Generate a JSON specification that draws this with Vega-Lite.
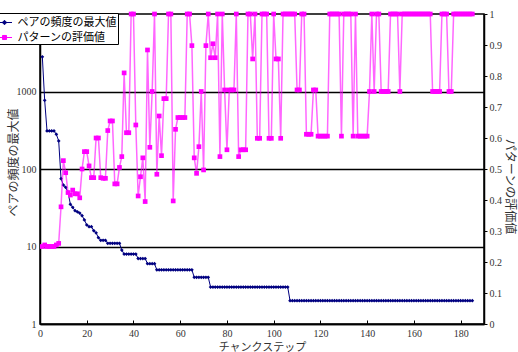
{
"$schema": "https://vega.github.io/schema/vega-lite/v6.json",
"width": 444, "height": 310,
"autosize": {"type": "none"},
"padding": {"left": 40, "top": 14, "right": 34, "bottom": 28},
"background": "white",
"config": {
  "view": {"stroke": "black", "strokeWidth": 1.5},
  "font": "Liberation Serif",
  "axis": {"labelFont": "Liberation Serif", "labelFontSize": 10, "labelColor": "#333", "domainColor": "black", "domainWidth": 1.5, "tickColor": "black", "titleFont": "Noto Sans CJK JP", "titleFontWeight": "normal", "titleColor": "#333"}
},
"datasets": {
"freq": [{"x":1,"v":2800},{"x":2,"v":770},{"x":3,"v":310},{"x":4,"v":310},{"x":5,"v":310},{"x":6,"v":310},{"x":7,"v":280},{"x":8,"v":230},{"x":9,"v":75},{"x":10,"v":62},{"x":11,"v":58},{"x":12,"v":50},{"x":13,"v":35},{"x":14,"v":32},{"x":15,"v":29},{"x":16,"v":28},{"x":17,"v":27},{"x":18,"v":25},{"x":19,"v":22},{"x":20,"v":19},{"x":21,"v":18},{"x":22,"v":18},{"x":23,"v":16},{"x":24,"v":15},{"x":25,"v":13},{"x":26,"v":12},{"x":27,"v":12},{"x":28,"v":12},{"x":29,"v":11},{"x":30,"v":11},{"x":31,"v":11},{"x":32,"v":11},{"x":33,"v":11},{"x":34,"v":11},{"x":35,"v":9},{"x":36,"v":8},{"x":37,"v":8},{"x":38,"v":8},{"x":39,"v":8},{"x":40,"v":8},{"x":41,"v":8},{"x":42,"v":7},{"x":43,"v":7},{"x":44,"v":7},{"x":45,"v":7},{"x":46,"v":6},{"x":47,"v":6},{"x":48,"v":6},{"x":49,"v":6},
{"x":50,"v":5},{"x":51,"v":5},{"x":52,"v":5},{"x":53,"v":5},{"x":54,"v":5},{"x":55,"v":5},{"x":56,"v":5},{"x":57,"v":5},{"x":58,"v":5},{"x":59,"v":5},{"x":60,"v":5},{"x":61,"v":5},{"x":62,"v":5},{"x":63,"v":5},{"x":64,"v":5},{"x":65,"v":5},
{"x":66,"v":4},{"x":67,"v":4},{"x":68,"v":4},{"x":69,"v":4},{"x":70,"v":4},{"x":71,"v":4},{"x":72,"v":4},
{"x":73,"v":3},{"x":74,"v":3},{"x":75,"v":3},{"x":76,"v":3},{"x":77,"v":3},{"x":78,"v":3},{"x":79,"v":3},{"x":80,"v":3},{"x":81,"v":3},{"x":82,"v":3},{"x":83,"v":3},{"x":84,"v":3},{"x":85,"v":3},{"x":86,"v":3},{"x":87,"v":3},{"x":88,"v":3},{"x":89,"v":3},{"x":90,"v":3},{"x":91,"v":3},{"x":92,"v":3},{"x":93,"v":3},{"x":94,"v":3},{"x":95,"v":3},{"x":96,"v":3},{"x":97,"v":3},{"x":98,"v":3},{"x":99,"v":3},{"x":100,"v":3},{"x":101,"v":3},{"x":102,"v":3},{"x":103,"v":3},{"x":104,"v":3},{"x":105,"v":3},{"x":106,"v":3},
{"x":107,"v":2},{"x":108,"v":2},{"x":109,"v":2},{"x":110,"v":2},{"x":111,"v":2},{"x":112,"v":2},{"x":113,"v":2},{"x":114,"v":2},{"x":115,"v":2},{"x":116,"v":2},{"x":117,"v":2},{"x":118,"v":2},{"x":119,"v":2},{"x":120,"v":2},{"x":121,"v":2},{"x":122,"v":2},{"x":123,"v":2},{"x":124,"v":2},{"x":125,"v":2},{"x":126,"v":2},{"x":127,"v":2},{"x":128,"v":2},{"x":129,"v":2},{"x":130,"v":2},{"x":131,"v":2},{"x":132,"v":2},{"x":133,"v":2},{"x":134,"v":2},{"x":135,"v":2},{"x":136,"v":2},{"x":137,"v":2},{"x":138,"v":2},{"x":139,"v":2},{"x":140,"v":2},{"x":141,"v":2},{"x":142,"v":2},{"x":143,"v":2},{"x":144,"v":2},{"x":145,"v":2},{"x":146,"v":2},{"x":147,"v":2},{"x":148,"v":2},{"x":149,"v":2},{"x":150,"v":2},{"x":151,"v":2},{"x":152,"v":2},{"x":153,"v":2},{"x":154,"v":2},{"x":155,"v":2},{"x":156,"v":2},{"x":157,"v":2},{"x":158,"v":2},{"x":159,"v":2},{"x":160,"v":2},{"x":161,"v":2},{"x":162,"v":2},{"x":163,"v":2},{"x":164,"v":2},{"x":165,"v":2},{"x":166,"v":2},{"x":167,"v":2},{"x":168,"v":2},{"x":169,"v":2},{"x":170,"v":2},{"x":171,"v":2},{"x":172,"v":2},{"x":173,"v":2},{"x":174,"v":2},{"x":175,"v":2},{"x":176,"v":2},{"x":177,"v":2},{"x":178,"v":2},{"x":179,"v":2},{"x":180,"v":2},{"x":181,"v":2},{"x":182,"v":2},{"x":183,"v":2},{"x":184,"v":2},{"x":185,"v":2}],
"score": [{"x":1,"v":0.25},{"x":2,"v":0.255},{"x":3,"v":0.25},{"x":4,"v":0.25},{"x":5,"v":0.25},{"x":6,"v":0.25},{"x":7,"v":0.255},{"x":8,"v":0.26},{"x":9,"v":0.378},{"x":10,"v":0.527},{"x":11,"v":0.488},{"x":12,"v":0.424},{"x":13,"v":0.416},{"x":14,"v":0.432},{"x":15,"v":0.42},{"x":16,"v":0.42},{"x":17,"v":0.407},{"x":18,"v":0.5},{"x":19,"v":0.556},{"x":20,"v":0.556},{"x":21,"v":0.51},{"x":22,"v":0.472},{"x":23,"v":0.472},{"x":24,"v":0.6},{"x":25,"v":0.6},{"x":26,"v":0.472},{"x":27,"v":0.47},{"x":28,"v":0.47},{"x":29,"v":0.624},{"x":30,"v":0.655},{"x":31,"v":0.655},{"x":32,"v":0.452},{"x":33,"v":0.452},{"x":34,"v":0.505},{"x":35,"v":0.54},{"x":36,"v":0.81},{"x":37,"v":0.617},{"x":38,"v":0.617},{"x":39,"v":1},{"x":40,"v":1},{"x":41,"v":0.642},{"x":42,"v":0.413},{"x":43,"v":0.475},{"x":44,"v":0.536},{"x":45,"v":0.395},{"x":46,"v":0.884},{"x":47,"v":0.57},{"x":48,"v":0.75},{"x":49,"v":1},{"x":50,"v":0.483},{"x":51,"v":0.671},{"x":52,"v":0.543},{"x":53,"v":0.727},{"x":54,"v":0.727},{"x":55,"v":1},{"x":56,"v":1},{"x":57,"v":0.397},{"x":58,"v":0.628},{"x":59,"v":0.666},{"x":60,"v":0.666},{"x":61,"v":0.666},{"x":62,"v":0.666},{"x":63,"v":1},{"x":64,"v":1},{"x":65,"v":0.898},{"x":66,"v":0.536},{"x":67,"v":0.486},{"x":68,"v":0.572},{"x":69,"v":0.75},{"x":70,"v":0.497},{"x":71,"v":0.898},{"x":72,"v":1},{"x":73,"v":0.859},{"x":74,"v":0.904},{"x":75,"v":0.859},{"x":76,"v":1},{"x":77,"v":0.54},{"x":78,"v":1},{"x":79,"v":0.755},{"x":80,"v":0.562},{"x":81,"v":0.755},{"x":82,"v":0.755},{"x":83,"v":0.755},{"x":84,"v":1},{"x":85,"v":0.54},{"x":86,"v":0.562},{"x":87,"v":0.562},{"x":88,"v":0.562},{"x":89,"v":1},{"x":90,"v":1},{"x":91,"v":0.855},{"x":92,"v":1},{"x":93,"v":0.599},{"x":94,"v":0.599},{"x":95,"v":1},{"x":96,"v":1},{"x":97,"v":1},{"x":98,"v":0.599},{"x":99,"v":0.599},{"x":100,"v":1},{"x":101,"v":0.855},{"x":102,"v":0.855},{"x":103,"v":0.599},{"x":104,"v":1},{"x":105,"v":1},{"x":106,"v":1},{"x":107,"v":1},{"x":108,"v":1},{"x":109,"v":1},{"x":110,"v":0.755},{"x":111,"v":0.755},{"x":112,"v":1},{"x":113,"v":1},{"x":114,"v":0.612},{"x":115,"v":0.612},{"x":116,"v":0.612},{"x":117,"v":0.755},{"x":118,"v":0.755},{"x":119,"v":0.606},{"x":120,"v":0.606},{"x":121,"v":0.606},{"x":122,"v":0.606},{"x":123,"v":0.606},{"x":124,"v":1},{"x":125,"v":1},{"x":126,"v":1},{"x":127,"v":1},{"x":128,"v":1},{"x":129,"v":0.606},{"x":130,"v":1},{"x":131,"v":1},{"x":132,"v":1},{"x":133,"v":1},{"x":134,"v":0.606},{"x":135,"v":1},{"x":136,"v":0.606},{"x":137,"v":0.606},{"x":138,"v":0.606},{"x":139,"v":0.606},{"x":140,"v":0.606},{"x":141,"v":0.75},{"x":142,"v":1},{"x":143,"v":0.75},{"x":144,"v":1},{"x":145,"v":1},{"x":146,"v":0.75},{"x":147,"v":0.75},{"x":148,"v":0.75},{"x":149,"v":0.75},{"x":150,"v":1},{"x":151,"v":1},{"x":152,"v":1},{"x":153,"v":1},{"x":154,"v":0.75},{"x":155,"v":1},{"x":156,"v":1},{"x":157,"v":1},{"x":158,"v":1},{"x":159,"v":1},{"x":160,"v":1},{"x":161,"v":1},{"x":162,"v":1},{"x":163,"v":1},{"x":164,"v":1},{"x":165,"v":1},{"x":166,"v":1},{"x":167,"v":1},{"x":168,"v":0.75},{"x":169,"v":0.75},{"x":170,"v":0.75},{"x":171,"v":0.75},{"x":172,"v":1},{"x":173,"v":1},{"x":174,"v":1},{"x":175,"v":0.75},{"x":176,"v":0.75},{"x":177,"v":1},{"x":178,"v":1},{"x":179,"v":1},{"x":180,"v":1},{"x":181,"v":1},{"x":182,"v":1},{"x":183,"v":1},{"x":184,"v":1},{"x":185,"v":1}]
},
"layer": [
  {
    "data": {"name": "freq"},
    "mark": {"type": "line", "strokeWidth": 1, "point": {"shape": "diamond", "filled": true, "size": 14, "opacity": 1}},
    "encoding": {
      "x": {"field": "x", "type": "quantitative", "scale": {"domain": [0, 190], "nice": false, "zero": false},
        "axis": {"values": [0,20,40,60,80,100,120,140,160,180], "title": "チャンクステップ", "titleFontSize": 11, "titlePadding": 3, "tickSize": -4, "labelPadding": 8, "grid": false, "labelFlush": false}},
      "y": {"field": "v", "type": "quantitative", "scale": {"type": "log", "domain": [1, 10000], "nice": false},
        "axis": {"orient": "left", "values": [1, 10, 100, 1000], "format": "d", "tickSize": 0, "labelPadding": 4, "grid": true, "gridColor": "black", "gridWidth": 1.5, "gridOpacity": 1, "title": "ペアの頻度の最大値", "titleFontSize": 12, "titleAngle": -90, "titleX": -27, "titleY": 148, "titleAlign": "center", "titleBaseline": "middle"}},
      "color": {"datum": "ペアの頻度の最大値", "type": "nominal",
        "scale": {"domain": ["ペアの頻度の最大値", "パターンの評価値"], "range": ["#000080", "#FF00FF"]},
        "legend": {"title": null, "orient": "none", "legendX": -45, "legendY": -1, "direction": "vertical", "padding": 1.5, "strokeColor": "black", "fillColor": "white", "labelFont": "Noto Sans CJK JP", "labelFontSize": 11, "labelColor": "black", "labelOffset": 5, "rowPadding": 2, "symbolSize": 225, "cornerRadius": 0,
          "encode": {"symbols": {"update": {
            "shape": {"signal": "datum.value === 'ペアの頻度の最大値' ? 'M-1,0H1M0,-0.3L0.3,0L0,0.3L-0.3,0Z' : 'M-1,0H1M-0.27,-0.27H0.27V0.27H-0.27Z'"},
            "fill": {"signal": "datum.value === 'ペアの頻度の最大値' ? '#000080' : '#FF00FF'"},
            "stroke": {"signal": "datum.value === 'ペアの頻度の最大値' ? '#000080' : '#FF00FF'"},
            "strokeWidth": {"value": 1},
            "opacity": {"value": 1},
            "fillOpacity": {"value": 1},
            "strokeOpacity": {"value": 1}}}}}
      }
    }
  },
  {
    "data": {"name": "score"},
    "mark": {"type": "line", "strokeWidth": 1.5, "strokeOpacity": 0.6, "point": {"shape": "square", "filled": true, "size": 22, "opacity": 1}},
    "encoding": {
      "x": {"field": "x", "type": "quantitative"},
      "y": {"field": "v", "type": "quantitative", "scale": {"domain": [0, 1], "nice": false},
        "axis": {"orient": "right", "values": [0,0.1,0.2,0.3,0.4,0.5,0.6,0.7,0.8,0.9,1], "format": "~g", "tickSize": 3, "labelPadding": 2, "grid": false, "title": "パターンの評価値", "titleFontSize": 12, "titleAngle": 90, "titleX": 25, "titleY": 172, "titleAlign": "center", "titleBaseline": "middle"}},
      "color": {"datum": "パターンの評価値", "type": "nominal"}
    }
  }
],
"resolve": {"scale": {"y": "independent"}}
}
